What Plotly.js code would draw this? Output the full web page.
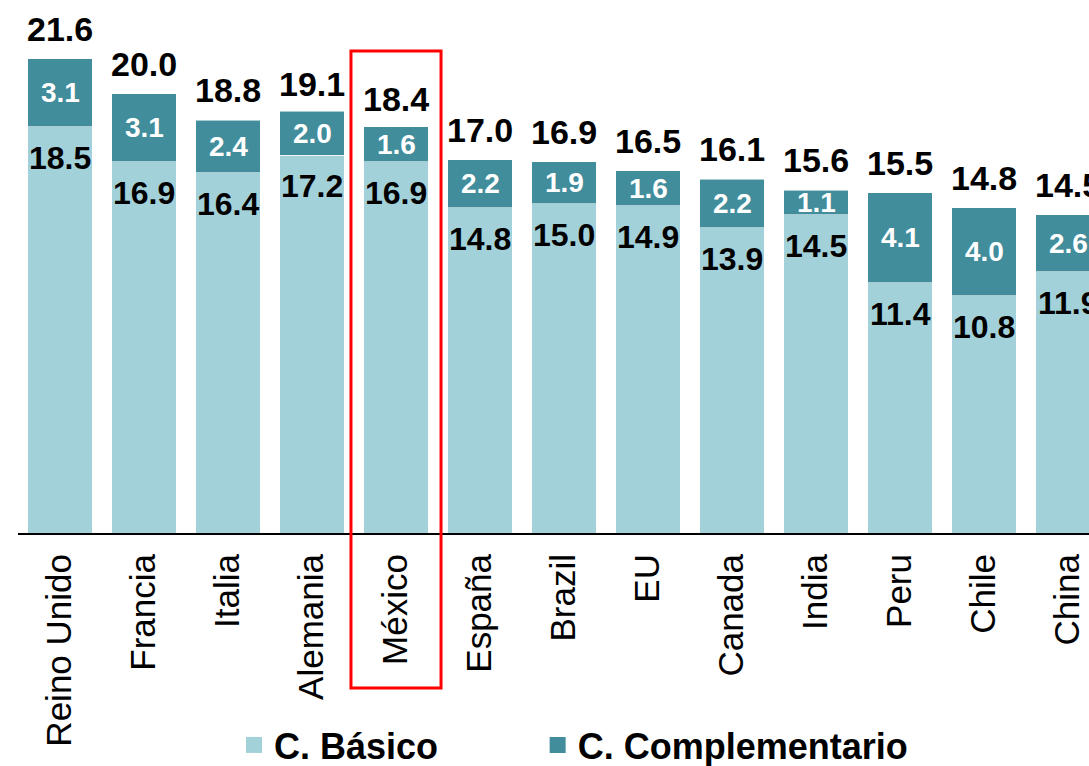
<!DOCTYPE html>
<html><head><meta charset="utf-8">
<script src="https://cdn.plot.ly/plotly-3.0.1.min.js"></script>
<style>html,body{margin:0;padding:0;background:#fff;}#chart{width:1089px;height:766px;}</style>
</head><body><div id="chart"></div>
<script>
const countries = ['Reino Unido','Francia','Italia','Alemania','México','España','Brazil','EU','Canada','India','Peru','Chile','China'];
const basico = [18.5,16.9,16.4,17.2,16.9,14.8,15.0,14.9,13.9,14.5,11.4,10.8,11.9];
const complementario = [3.1,3.1,2.4,2.0,1.6,2.2,1.9,1.6,2.2,1.1,4.1,4.0,2.6];
const totales = [21.6,20.0,18.8,19.1,18.4,17.0,16.9,16.5,16.1,15.6,15.5,14.8,14.5];
const seriesNames = ['C. Básico','C. Complementario'];
const highlighted = 'México';

const colBasic = '#a3d1da', colComp = '#418d9b';
const FONT = 'Arial, "Liberation Sans", sans-serif';
const W = 1089, H = 766, mL = 18, mR = 0, mT = 0, mB = 233;
const xr = [-0.5, 12.25];
const yr = [0, 24.27];

const edge = {color: 'rgba(255,255,255,0.55)', width: 1};
const traces = [
  {type: 'bar', x: countries, y: basico, name: seriesNames[0], marker: {color: colBasic, line: edge}, showlegend: false, hoverinfo: 'skip'},
  {type: 'bar', x: countries, y: complementario, name: seriesNames[1], marker: {color: colComp, line: edge}, showlegend: false, hoverinfo: 'skip'},
  {type: 'scatter', x: [null], y: [null], mode: 'markers', name: seriesNames[0], legend: 'legend', marker: {symbol: 'square', size: 16, color: colBasic}},
  {type: 'scatter', x: [null], y: [null], mode: 'markers', name: seriesNames[1], legend: 'legend2', marker: {symbol: 'square', size: 16, color: colComp}}
];

const annotations = [];
countries.forEach((c, i) => {
  annotations.push({x: c, y: totales[i], xref: 'x', yref: 'y', yshift: 30, showarrow: false,
    text: totales[i].toFixed(1), yanchor: 'middle', font: {family: FONT, size: 34, weight: 'bold', color: '#000'}});
  annotations.push({x: c, y: basico[i], xref: 'x', yref: 'y', yshift: -31, showarrow: false,
    text: basico[i].toFixed(1), yanchor: 'middle', font: {family: FONT, size: 32, weight: 'bold', color: '#000'}});
  annotations.push({x: c, y: basico[i] + complementario[i] / 2, xref: 'x', yref: 'y', showarrow: false,
    text: complementario[i].toFixed(1), yanchor: 'middle', font: {family: FONT, size: 28, weight: 'bold', color: '#fff'}});
});

// highlight box around the highlighted category
const idx = countries.indexOf(highlighted);
const span = xr[1] - xr[0];
const half = 0.536;
const shapes = [{
  type: 'rect', xref: 'paper', yref: 'paper', layer: 'above',
  x0: (idx - half - xr[0]) / span, x1: (idx + half - xr[0]) / span,
  y0: -0.291, y1: 21.95 / yr[1],
  line: {color: '#ff0000', width: 3}, fillcolor: 'rgba(0,0,0,0)'
}];

const legendBase = {orientation: 'h', xanchor: 'left', y: -0.3978, yanchor: 'middle',
  font: {family: FONT, size: 36, weight: 'bold', color: '#000'},
  bgcolor: 'rgba(0,0,0,0)', borderwidth: 0, itemclick: false, itemdoubleclick: false};

const layout = {
  width: W, height: H,
  margin: {l: mL, r: mR, t: mT, b: mB, autoexpand: false},
  paper_bgcolor: '#fff', plot_bgcolor: '#fff',
  barmode: 'stack', bargap: 0.234,
  font: {family: FONT, color: '#000'},
  xaxis: {range: xr, type: 'category', tickangle: -90, ticks: '', showline: true, linecolor: '#000', linewidth: 2,
    tickfont: {family: FONT, size: 35, color: '#000'}, ticklabelstandoff: 5, showgrid: false, zeroline: false, fixedrange: true},
  yaxis: {range: yr, visible: false, showgrid: false, zeroline: false, fixedrange: true},
  showlegend: true,
  legend: Object.assign({}, legendBase, {x: 0.2017}),
  legend2: Object.assign({}, legendBase, {x: 0.4852}),
  annotations: annotations,
  shapes: shapes
};

Plotly.newPlot('chart', traces, layout, {staticPlot: true, displayModeBar: false});
</script>
</body></html>
